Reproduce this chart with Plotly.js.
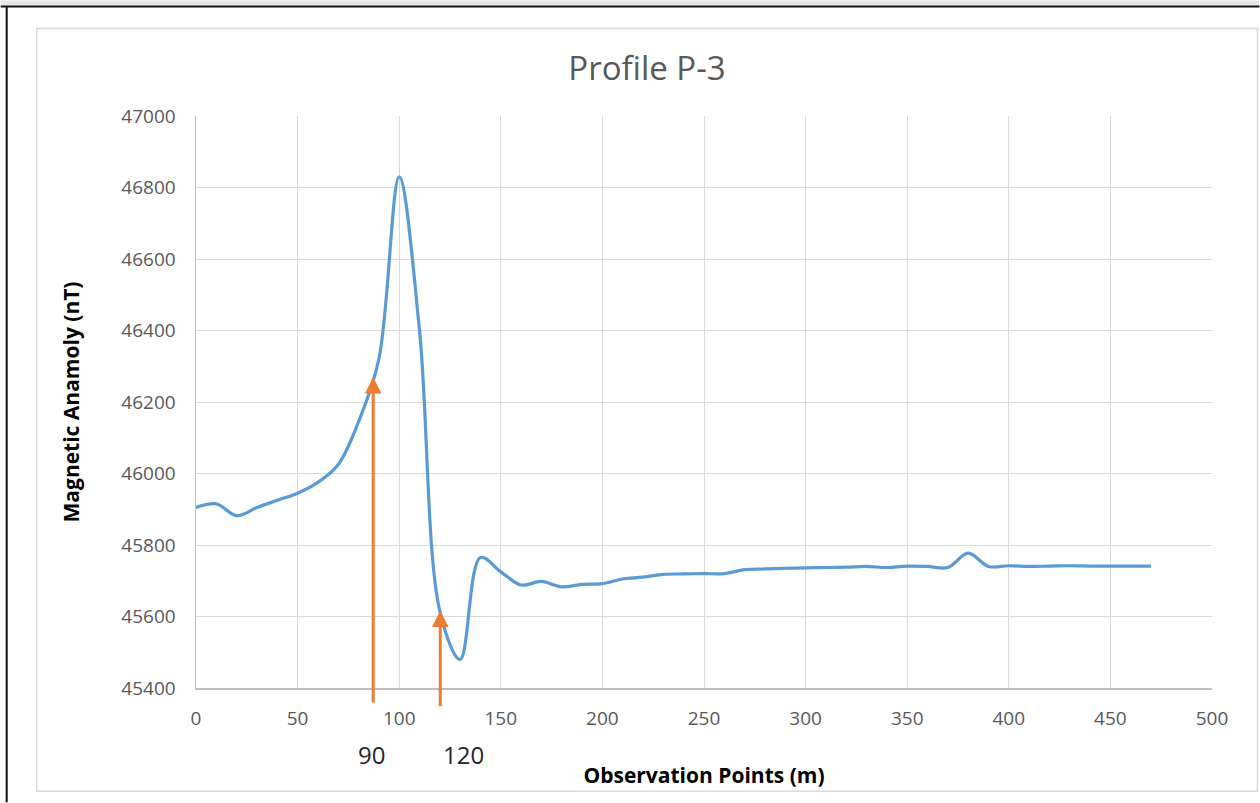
<!DOCTYPE html>
<html>
<head>
<meta charset="utf-8">
<script src="https://cdn.plot.ly/plotly-3.0.1.min.js"></script>
<style>
  html, body { margin: 0; padding: 0; background: #ffffff; }
  #chart { width: 1260px; height: 803px; }
</style>
</head>
<body>
<div id="chart"></div>
<script>
// Observation points (m)
const distance = [0, 10, 20, 30, 40, 50, 60, 70, 80, 90,
  100, 110, 120, 130, 140, 150, 160, 170, 180, 190,
  200, 210, 220, 230, 240, 250, 260, 270, 280, 290,
  300, 310, 320, 330, 340, 350, 360, 370, 380, 390,
  400, 410, 420, 430, 440, 450, 460, 470];
// Magnetic anomaly (nT)
const anomaly = [45905, 45915, 45882, 45905, 45925, 45945, 45975, 46025, 46145, 46320,
  46830, 46400, 45615, 45480, 45765, 45725, 45688, 45698, 45683, 45690,
  45692, 45705, 45710, 45718, 45719, 45720, 45720, 45731, 45733, 45735,
  45736, 45737, 45738, 45740, 45737, 45741, 45740, 45737, 45777, 45740,
  45742, 45740, 45741, 45742, 45741, 45741, 45741, 45741];

// Marker arrows
const arrowX = [87.2, 120.2];
const arrowTip = [46270, 45617];
const arrowTail = [45355, 45345];
const arrowLabels = ['90', '120'];

const xTicks = [0, 50, 100, 150, 200, 250, 300, 350, 400, 450, 500];
const yTicks = [45400, 45600, 45800, 46000, 46200, 46400, 46600, 46800, 47000];

const W = 1260, H = 803;
const M = { l: 195.5, r: 47.5, t: 115.7, b: 114.5 };
const PW = W - M.l - M.r, PH = H - M.t - M.b;
const px2paperX = p => (p - M.l) / PW;
const px2paperY = p => (H - M.b - p) / PH;

const FONT = '"Open Sans", "Noto Sans", "DejaVu Sans", sans-serif';

const trace = {
  x: distance,
  y: anomaly,
  type: 'scatter',
  mode: 'lines',
  line: { color: '#5B9BD5', width: 3.2, shape: 'spline', smoothing: 1 },
  hoverinfo: 'x+y',
  showlegend: false
};

const annotations = [];
arrowX.forEach((x, i) => {
  annotations.push({
    x: x, y: arrowTip[i], xref: 'x', yref: 'y',
    ax: x, ay: arrowTail[i], axref: 'x', ayref: 'y',
    showarrow: true, arrowhead: 2, arrowsize: 1.1, arrowwidth: 3,
    arrowcolor: '#ED7D31', text: ''
  });
});
const labelPx = [371, 463];
arrowLabels.forEach((t, i) => {
  annotations.push({
    text: t, showarrow: false,
    xref: 'paper', yref: 'paper',
    x: px2paperX(labelPx[i]), y: px2paperY(755),
    xanchor: 'center', yanchor: 'middle',
    font: { family: FONT, size: 24, color: '#262626' }
  });
});

const shapes = [
  { type: 'rect', xref: 'paper', yref: 'paper', x0: px2paperX(0), x1: px2paperX(W), y0: px2paperY(0), y1: px2paperY(5),
    fillcolor: '#e6e6e6', line: { width: 0 }, layer: 'below' },
  { type: 'line', xref: 'paper', yref: 'paper', x0: px2paperX(0), x1: px2paperX(W), y0: px2paperY(6), y1: px2paperY(6),
    line: { color: '#111111', width: 2 } },
  { type: 'line', xref: 'paper', yref: 'paper', x0: px2paperX(6), x1: px2paperX(6), y0: px2paperY(6), y1: px2paperY(H),
    line: { color: '#111111', width: 2 } },
  { type: 'rect', xref: 'paper', yref: 'paper', x0: px2paperX(36), x1: px2paperX(1258), y0: px2paperY(792), y1: px2paperY(28),
    fillcolor: 'rgba(0,0,0,0)', line: { color: '#d9d9d9', width: 1.5 }, layer: 'below' }
];

const layout = {
  width: W, height: H,
  margin: M,
  paper_bgcolor: '#ffffff',
  plot_bgcolor: '#ffffff',
  title: {
    text: 'Profile P-3',
    font: { family: FONT, size: 33, color: '#595959' },
    x: 647 / W, xref: 'container', xanchor: 'center',
    y: 1 - 68 / H, yref: 'container', yanchor: 'middle'
  },
  xaxis: {
    range: [0, 500],
    tickvals: xTicks,
    ticktext: xTicks.map(String),
    showgrid: true, gridcolor: '#d9d9d9', gridwidth: 1,
    zeroline: false,
    showline: true, linecolor: '#bfbfbf', linewidth: 1.5,
    ticks: 'outside', ticklen: 13, tickcolor: 'rgba(0,0,0,0)',
    tickfont: { family: FONT, size: 19, color: '#595959' },
    title: {
      text: '<b>Observation Points (m)</b>',
      font: { family: FONT, size: 21, color: '#000000' },
      standoff: 38
    },
    automargin: false
  },
  yaxis: {
    range: [45400, 47000],
    tickvals: yTicks,
    ticktext: yTicks.map(String),
    showgrid: true, gridcolor: '#d9d9d9', gridwidth: 1,
    zeroline: false,
    showline: true, linecolor: '#bfbfbf', linewidth: 1.5,
    ticks: 'outside', ticklen: 15, tickcolor: 'rgba(0,0,0,0)',
    tickfont: { family: FONT, size: 19, color: '#595959' },
    title: {
      text: '<b>Magnetic Anamoly (nT)</b>',
      font: { family: FONT, size: 21, color: '#000000' },
      standoff: 36
    },
    automargin: false
  },
  annotations: annotations,
  shapes: shapes,
  showlegend: false
};

Plotly.newPlot('chart', [trace], layout, { displayModeBar: false, staticPlot: true });
</script>
</body>
</html>
